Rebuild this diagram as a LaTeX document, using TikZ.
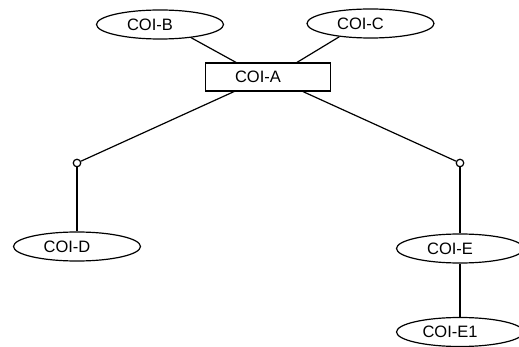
\documentclass[tikz,border=0pt]{standalone}
\usepackage{fontspec}
\setmainfont{Liberation Sans}
\usetikzlibrary{shapes.geometric,calc}
\begin{document}
\begin{tikzpicture}[x=1pt,y=-1pt,line width=1.2pt,
  ent/.style={draw,ellipse,inner sep=0pt,minimum width=127pt,minimum height=29pt,
    font=\fontsize{16.5}{17}\selectfont},
  box/.style={draw,rectangle,inner sep=0pt,minimum width=125pt,minimum height=28pt,
    font=\fontsize{16.5}{17}\selectfont},
  joint/.style={draw,circle,fill=white,inner sep=0pt,minimum size=7.5pt}]
\useasboundingbox (0,0) rectangle (519,347);
% entities
\node[box] (a) at (268,77) {COI-A\hspace*{20pt}};
\node[ent] (b) at (160,24.5) {COI-B\hspace*{20pt}};
\node[ent] (c) at (370.5,23.5) {COI-C\hspace*{20pt}};
\node[ent] (d) at (77,246.5) {COI-D\hspace*{20pt}};
\node[ent] (e) at (460,248.5) {COI-E\hspace*{20pt}};
\node[ent] (e1) at (460,332) {COI-E1\hspace*{20pt}};
% joints
\node[joint] (jl) at (77,163) {};
\node[joint] (jr) at (460,163) {};
% links
\draw (b.-23) -- ($(a.north)+(-32,0)$);
\draw (c.-157) -- ($(a.north)+(29,0)$);
\draw ($(a.south)+(-34,0)$) -- (jl);
\draw ($(a.south)+(35,0)$) -- (jr);
\draw (jl) -- (d.north);
\draw (jr) -- (e.north);
\draw (e.south) -- (e1.north);
\end{tikzpicture}
\end{document}
